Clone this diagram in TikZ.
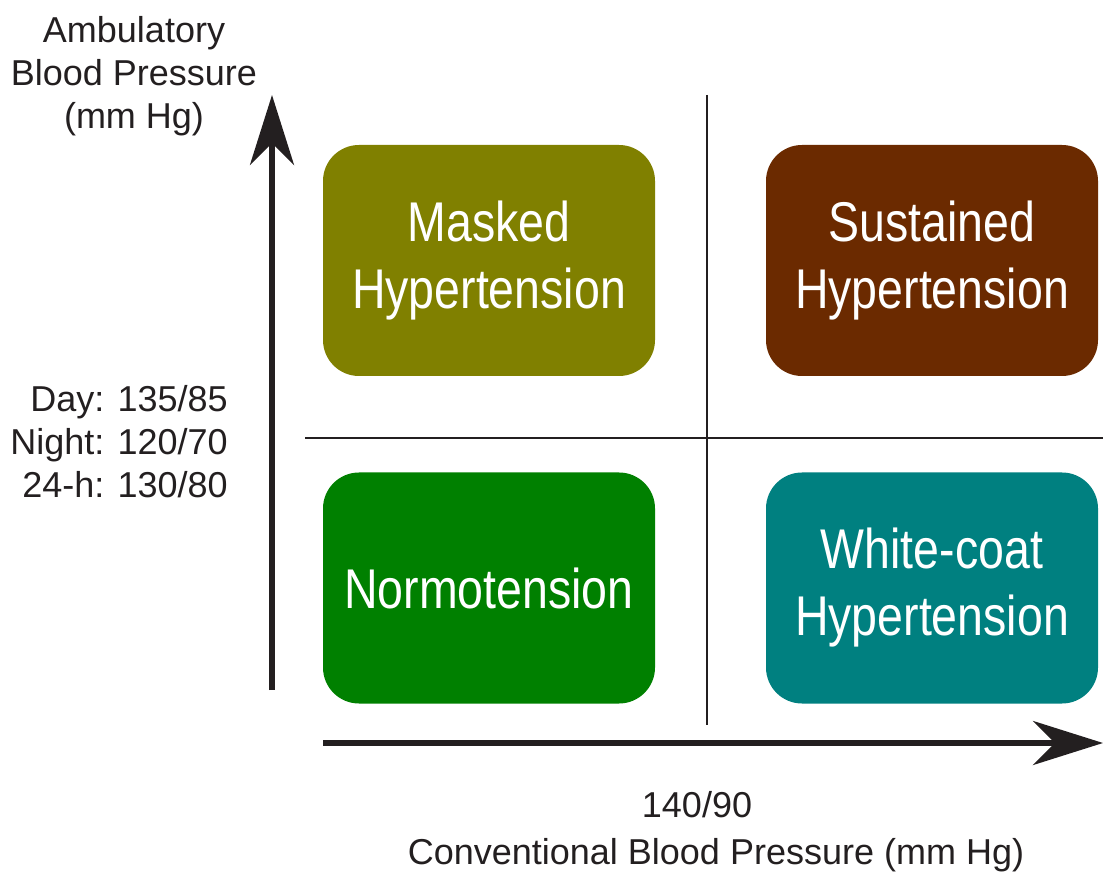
\documentclass[tikz,border=0pt]{standalone}
\usepackage{fontspec}
\setmainfont{Liberation Sans}
\newfontfamily\narrowfont[FakeStretch=0.83]{Liberation Sans}
\usepackage{xcolor}
\usetikzlibrary{arrows.meta,positioning}
\definecolor{olivebox}{HTML}{808000}
\definecolor{brownbox}{HTML}{6B2A00}
\definecolor{greenbox}{HTML}{008000}
\definecolor{tealbox}{HTML}{008080}
\definecolor{ink}{HTML}{231F20}
\tikzstyle{quadrant}=[rounded corners=36pt, minimum width=332pt, minimum height=231pt, text=white, align=center, font=\narrowfont\fontsize{56}{67}\selectfont, inner sep=0pt]
\tikzstyle{axis}=[line width=6pt, draw=ink, -{Stealth[length=70pt,width=44pt,inset=22pt]}]
\tikzstyle{divider}=[line width=1.5pt, draw=ink]
\tikzstyle{lbl}=[font=\fontsize{36}{43}\selectfont, text=ink, inner sep=0pt]

\begin{document}
\begin{tikzpicture}[x=1pt, y=1pt]
 \useasboundingbox (0,0) rectangle (1103,871);
%
 \coordinate (ylow) at (272,181);
 \coordinate (yhigh) at (272,776);
 \coordinate (xlow) at (323,128);
 \coordinate (xhigh) at (1103,128);
 \coordinate (vtop) at (707,776);
 \coordinate (vbot) at (707,146);
 \coordinate (hleft) at (305,433);
 \coordinate (hright) at (1103,433);
%
 \draw[divider] (vtop) -- (vbot);
 \draw[divider] (hleft) -- (hright);
 \draw[axis] (ylow) -- (yhigh);
 \draw[axis] (xlow) -- (xhigh);
%
 \node[quadrant, fill=olivebox] (masked) at (489,610.5) {Masked\\Hypertension};
 \node[quadrant, fill=brownbox] (sustained) at (932,610.5) {Sustained\\Hypertension};
 \node[quadrant, fill=greenbox] (normo) at (489,283) {Normotension};
 \node[quadrant, fill=tealbox] (whitecoat) at (932,283) {White-coat\\Hypertension};
%
 \node[lbl, align=center] (ylabel) at (134,795) {Ambulatory\\Blood Pressure\\(mm Hg)};
 \node[lbl, align=right, anchor=east] (ycut) at (228,429) {Day: 135/85\\Night: 120/70\\24-h: 130/80};
 \node[lbl] (xcut) at (697,66) {140/90};
 \node[lbl] (xlabel) at (716,16) {Conventional Blood Pressure (mm Hg)};
\end{tikzpicture}
\end{document}
